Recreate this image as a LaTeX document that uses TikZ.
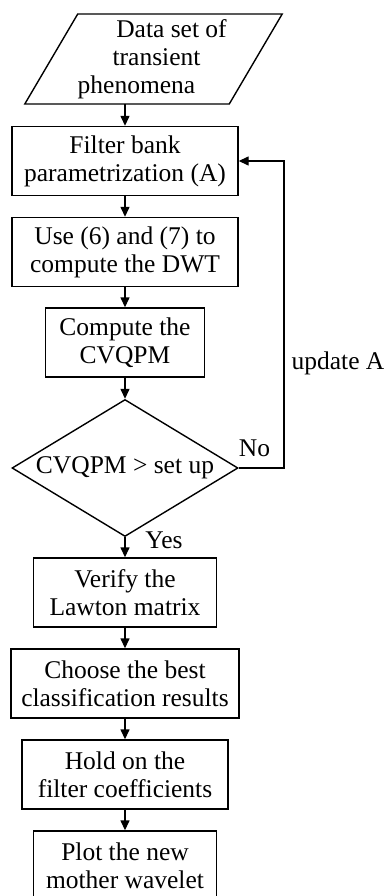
\documentclass[tikz,border=0pt]{standalone}
\usepackage{fontspec}
\setmainfont{Liberation Serif}
\usetikzlibrary{shapes.geometric,arrows.meta}
\begin{document}
\begin{tikzpicture}[x=1pt,y=-1pt,font=\fontsize{25.5}{28}\selectfont]
    % Node styles
    \tikzstyle{none}=[inner sep=0mm]
    \tikzstyle{data box}=[draw=black, line width=1.4pt, shape=trapezium, trapezium left angle=56.3, trapezium right angle=123.7, trapezium stretches body, minimum width=227pt, minimum height=90pt, inner sep=0mm, align=center]
    \tikzstyle{step box}=[draw=black, line width=1.4pt, shape=rectangle, minimum height=69pt, inner sep=0mm, align=center]
    \tikzstyle{test box}=[draw=black, line width=1.4pt, shape=diamond, aspect=1.65, minimum width=226pt, minimum height=137pt, inner sep=0mm]
    % Edge styles
    \tikzstyle{arrow}=[line width=1.4pt, -{Triangle[length=10pt,width=9pt]}]

    \useasboundingbox (0, 0) rectangle (385, 896);

    \node [style=data box] (0) at (153.5, 59) {\hspace*{36pt}Data set of\\ \hspace*{6pt}transient\\ phenomena\hspace*{34pt}};
    \node [style=step box, minimum width=226pt] (1) at (125, 161) {Filter bank\\ parametrization (A)};
    \node [style=step box, minimum width=226pt] (2) at (125, 252) {Use (6) and (7) to\\ compute the DWT};
    \node [style=step box, minimum width=159pt] (3) at (125, 342.5) {Compute the\\ CVQPM};
    \node [style=test box] (4) at (125, 468) {CVQPM > set up};
    \node [style=step box, minimum width=183pt] (5) at (125, 592.5) {Verify the\\ Lawton matrix};
    \node [style=step box, minimum width=228pt] (6) at (125, 683.5) {Choose the best\\ classification results};
    \node [style=step box, minimum width=206pt] (7) at (125, 774.5) {Hold on the\\ filter coefficients};
    \node [style=step box, minimum width=183pt] (8) at (125, 865.5) {Plot the new\\ mother wavelet};
    \node [style=none] (9) at (338, 363) {update A};
    \node [style=none] (10) at (254.5, 448) {No};
    \node [style=none] (11) at (164, 540) {Yes};
    \node [style=none] (12) at (125, 104) {};
    \node [style=none] (13) at (284, 468) {};
    \node [style=none] (14) at (284, 161) {};

    \draw [style=arrow] (12.center) to (1);
    \draw [style=arrow] (1) to (2);
    \draw [style=arrow] (2) to (3);
    \draw [style=arrow] (3) to (4);
    \draw [style=arrow] (4) to (5);
    \draw [style=arrow] (5) to (6);
    \draw [style=arrow] (6) to (7);
    \draw [style=arrow] (7) to (8);
    \draw [style=arrow] (4) to (13.center) to (14.center) to (1);
\end{tikzpicture}
\end{document}
